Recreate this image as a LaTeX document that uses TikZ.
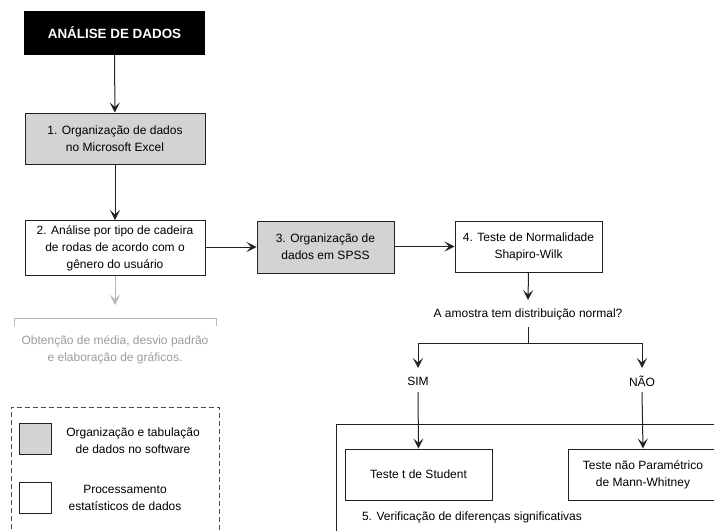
\documentclass[tikz,border=0pt]{standalone}
\usepackage{fontspec}
\setmainfont{Liberation Sans}
\usetikzlibrary{arrows.meta}
\definecolor{boxgray}{HTML}{D1D3D4}
\definecolor{linegray}{HTML}{222222}
\definecolor{softgray}{HTML}{B8B8B8}
\begin{document}
\begin{tikzpicture}[x=1pt,y=-1pt,
  txt/.style={font=\fontsize{12}{17}\selectfont, align=center, inner sep=0pt},
  stepbox/.style={txt, draw=linegray, line width=1pt, fill=white},
  graybox/.style={stepbox, fill=boxgray},
  conn/.style={draw=linegray, line width=1pt},
  arr/.style={conn, -{Stealth[length=10pt,width=10pt,inset=4.5pt]}},
  garr/.style={draw=softgray, line width=1pt, -{Stealth[length=10pt,width=10pt,inset=4.5pt]}},
]
\useasboundingbox (0,0) rectangle (714,530);
\clip (0,0) rectangle (714,530);
\fill[white] (0,0) rectangle (714,530);

% title
\node[fill=black, minimum width=181pt, minimum height=44pt, inner sep=0pt,
      text=white, font=\fontsize{13.4}{15}\bfseries\selectfont] (title) at (114.5,33) {ANÁLISE DE DADOS};

\node[graybox, minimum width=180pt, minimum height=51pt] (b1) at (115,138.5) {1. Organização de dados\\no Microsoft Excel};
\node[stepbox, minimum width=180pt, minimum height=55pt] (b2) at (115,248) {2. Análise por tipo de cadeira\\de rodas de acordo com o\\gênero do usuário};
\node[graybox, minimum width=137pt, minimum height=52pt] (b3) at (325.5,247) {3. Organização de\\dados em SPSS};
\node[stepbox, minimum width=147pt, minimum height=51pt] (b4) at (528.5,246.5) {4. Teste de Normalidade\\Shapiro-Wilk};

\draw[arr] (title) -- (b1);
\draw[arr] (b1) -- (b2);
\draw[arr] (b2.east |- b3.west) -- (b3.west);
\draw[arr] (b3.east |- b4.west) -- (b4.west);

% question
\node[txt] (q) at (528,314) {A amostra tem distribuição normal?};
\draw[arr] (b4.south) -- (528,300);
\coordinate (split) at (528,343);
\node[txt] (sim) at (418,381) {SIM};
\node[txt] (nao) at (642,381) {NÃO};
\draw[conn] (528,327) -- (split);
\draw[arr] (split) -| (sim.north |- 0,368);
\draw[arr] (split) -| (nao.north |- 0,368);

% big box
\draw[conn] (336,424) rectangle (725,545);
\node[stepbox, minimum width=147pt, minimum height=51pt] (tt) at (418.5,474.5) {Teste t de Student};
\node[stepbox, minimum width=150pt, minimum height=51pt] (mw) at (643,474.5) {Teste não Paramétrico\\de Mann-Whitney};
\draw[arr] (sim.south |- 0,392) -- (tt.north);
\draw[arr] (nao.south |- 0,392) -- (mw.north);
\node[txt] (five) at (472,517) {5. Verificação de diferenças significativas};

% gray branch
\draw[garr] (b2.south) -- (115,305);
\draw[softgray, line width=1pt] (14,326) -- (14,318) -- (216,318) -- (216,326);
\node[txt, text=softgray!85!black] (obt) at (115,350) {Obtenção de média, desvio padrão\\e elaboração de gráficos.};

% legend
\draw[linegray!80, line width=1pt, dash pattern=on 5pt off 3pt] (11,545) -- (11,407) -- (219,407) -- (219,545);
\node[draw=linegray, line width=1pt, fill=boxgray, minimum width=32pt, minimum height=31pt, inner sep=0pt] (lg1) at (35,438.5) {};
\node[draw=linegray, line width=1pt, fill=white, minimum width=32pt, minimum height=31pt, inner sep=0pt] (lg2) at (35,497.5) {};
\node[txt] (lt1) at (133,440.5) {Organização e tabulação\\de dados no software};
\node[txt] (lt2) at (125,498) {Processamento\\estatísticos de dados};
\end{tikzpicture}
\end{document}
